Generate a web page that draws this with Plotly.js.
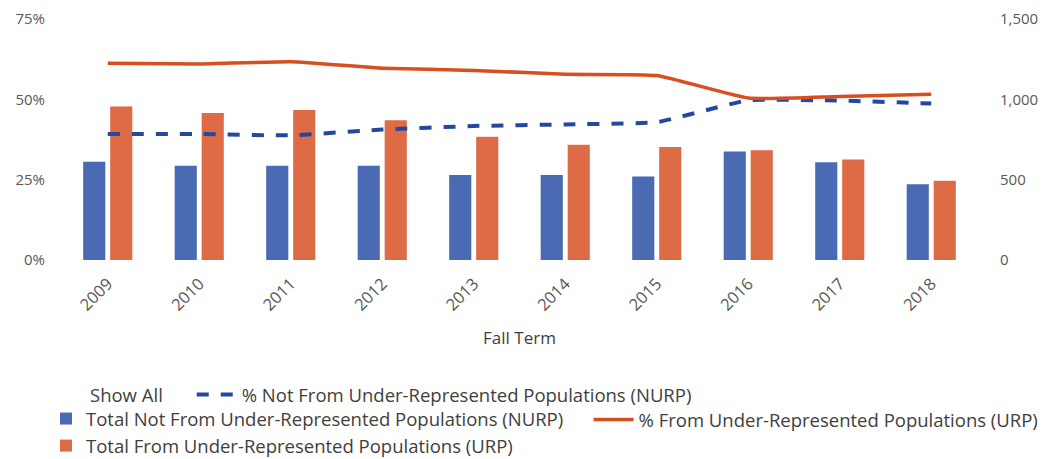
<!DOCTYPE html>
<html>
<head>
<meta charset="utf-8">
<script src="https://cdn.plot.ly/plotly-3.0.1.min.js"></script>
<style>
  body { margin: 0; background: #fff; }
  #chart { width: 1064px; height: 459px; }
</style>
</head>
<body>
<div id="chart"></div>
<script>
// Fall term enrolment, NURP vs URP
var years = ['2009', '2010', '2011', '2012', '2013', '2014', '2015', '2016', '2017', '2018'];

var totalNurp = [611, 586, 586, 586, 529, 529, 519, 675, 609, 471];
var totalUrp = [955, 915, 934, 870, 767, 718, 704, 683, 625, 494];

var pctNurp = [0.392, 0.392, 0.388, 0.406, 0.417, 0.422, 0.429, 0.497, 0.496, 0.487];
var pctUrp = [0.612, 0.610, 0.617, 0.597, 0.590, 0.578, 0.574, 0.504, 0.509, 0.516];

var tickColor = '#595959';
var font = 'Open Sans, sans-serif';

var traceNurpBar = {
    x: years,
    y: totalNurp,
    type: 'bar',
    name: 'Total Not From Under-Represented Populations (NURP)',
    marker: {color: '#4a6bb3'},
    yaxis: 'y',
    legend: 'legend'
};

var traceUrpBar = {
    x: years,
    y: totalUrp,
    type: 'bar',
    name: 'Total From Under-Represented Populations (URP)',
    marker: {color: '#dd6b46'},
    yaxis: 'y',
    legend: 'legend'
};

var traceNurpPct = {
    x: years,
    y: pctNurp,
    type: 'scatter',
    mode: 'lines',
    name: '% Not From Under-Represented Populations (NURP)',
    line: {color: '#2448a2', width: 4, dash: 'dash', shape: 'spline', smoothing: 0.4},
    yaxis: 'y2',
    legend: 'legend2'
};

var traceUrpPct = {
    x: years,
    y: pctUrp,
    type: 'scatter',
    mode: 'lines',
    name: '% From Under-Represented Populations (URP)',
    line: {color: '#d84f1f', width: 3.5, shape: 'spline', smoothing: 0.4},
    yaxis: 'y2',
    legend: 'legend3'
};

var data = [traceNurpBar, traceUrpBar, traceNurpPct, traceUrpPct];

// y against the page so the legends don't squeeze the plot area
var legendBase = {
    orientation: 'v',
    xref: 'paper',
    yref: 'container',
    xanchor: 'left',
    yanchor: 'middle',
    font: {family: font, size: 18.5, color: '#404040'},
    bgcolor: 'rgba(0,0,0,0)',
    itemwidth: 30,
    tracegroupgap: 0
};

var layout = {
    width: 1064,
    height: 459,
    margin: {l: 62, r: 87, t: 19, b: 199},
    paper_bgcolor: '#fff',
    plot_bgcolor: '#fff',
    font: {family: font, color: tickColor},
    showlegend: true,
    barmode: 'group',
    bargap: 0.41,
    bargroupgap: 0.18,
    xaxis: {
        type: 'category',
        automargin: false,
        tickangle: -45,
        tickfont: {size: 16.5, color: tickColor},
        ticklabelstandoff: 10,
        showgrid: false,
        showline: false,
        zeroline: false,
        ticks: '',
        title: {text: 'Fall Term', font: {size: 17, color: '#404040'}, standoff: 17}
    },
    yaxis: {
        side: 'right',
        automargin: false,
        range: [0, 1500],
        dtick: 500,
        tickformat: ',d',
        showgrid: false,
        zeroline: false,
        showline: false,
        ticks: '',
        ticklabelstandoff: 22,
        tickfont: {size: 15, color: tickColor}
    },
    yaxis2: {
        side: 'left',
        overlaying: 'y',
        automargin: false,
        range: [0, 0.75],
        dtick: 0.25,
        tickformat: '.0%',
        showgrid: false,
        zeroline: false,
        showline: false,
        ticks: '',
        ticklabelstandoff: 16,
        tickfont: {size: 15, color: tickColor}
    },
    legend: Object.assign({}, legendBase, {x: -0.0175, y: 0.0577}),
    legend2: Object.assign({}, legendBase, {x: 0.1418, y: 0.1394, itemwidth: 40}),
    legend3: Object.assign({}, legendBase, {x: 0.5755, y: 0.085, itemwidth: 40}),
    annotations: [{
        text: 'Show All',
        xref: 'paper', yref: 'paper',
        x: 0.0284, y: -0.560,
        xanchor: 'left', yanchor: 'middle',
        showarrow: false,
        font: {family: font, size: 18.5, color: '#404040'}
    }]
};

Plotly.newPlot('chart', data, layout, {displayModeBar: false});
</script>
</body>
</html>
